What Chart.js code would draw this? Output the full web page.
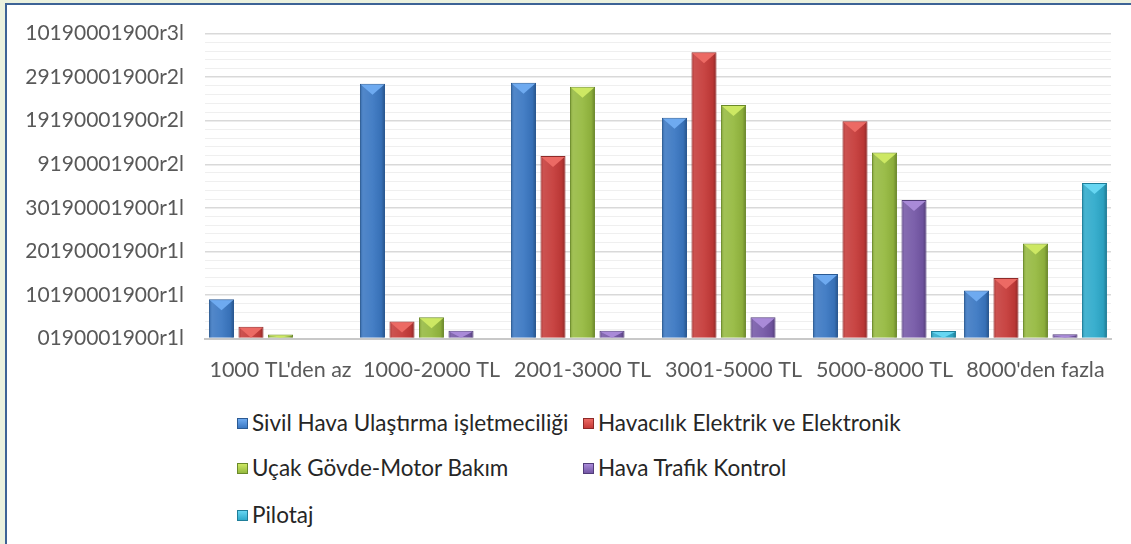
<!DOCTYPE html>
<html>
<head>
<meta charset="utf-8">
<script src="https://cdn.jsdelivr.net/npm/chart.js@4/dist/chart.umd.min.js"></script>
<style>
  body { margin: 0; background: #ebf1de; width: 1131px; height: 544px; overflow: hidden; font-family: Lato, "Liberation Sans", sans-serif; }
  #frame { position: absolute; left: 5px; top: 3px; width: 1124px; height: 539px; background: #fff;
           border-left: 2px solid #3d6396; border-top: 2px solid #3d6396; }
  #chart { position: absolute; left: 0; top: -5px; }
  .leg { position: absolute; font-size: 22.5px; color: #262626; white-space: nowrap; line-height: 26px; }
  .leg i { display: inline-block; width: 9px; height: 9px; margin-right: 4px; vertical-align: 2px; border: 1px solid; }
</style>
</head>
<body>
<div id="frame">
  <canvas id="chart" width="1124" height="400"></canvas>
  <div id="legend"></div>
</div>
<script>
const categories = ["1000 TL'den az", '1000-2000 TL', '2001-3000 TL', '3001-5000 TL', '5000-8000 TL', "8000'den fazla"];
const yLabels = ['0190001900r1l', '10190001900r1l', '20190001900r1l', '30190001900r1l',
                 '9190001900r2l', '19190001900r2l', '29190001900r2l', '10190001900r3l'];

const sivil     = [9.0, 58.5, 58.7, 50.7, 14.8, 11.0];
const havacilik = [2.7, 3.9, 41.9, 65.7, 49.9, 13.9];
const ucak      = [0.9, 4.9, 57.8, 53.6, 42.7, 21.8];
const trafik    = [0, 1.8, 1.8, 4.9, 31.8, 1.0];
const pilotaj   = [0, 0, 0, 0, 1.7, 35.7];

const seriesNames = ['Sivil Hava Ulaştırma işletmeciliği', 'Havacılık Elektrik ve Elektronik',
                     'Uçak Gövde-Motor Bakım', 'Hava Trafik Kontrol', 'Pilotaj'];
const seriesData = [sivil, havacilik, ucak, trafik, pilotaj];
const fills  = ['#3a77c2', '#c53a38', '#95b93f', '#7457a6', '#2eaacb'];
const tops   = ['#6eaaf0', '#ec6a64', '#cde863', '#a98ad8', '#66d6f2'];
const edges  = ['#2b5a93', '#8e2a28', '#6b8a2a', '#523d7a', '#1f7e99'];

// bevel + pyramid tip like the office 3d bars
const bevel = {
  id: 'bevel',
  afterDatasetsDraw(chart) {
    const ctx = chart.ctx;
    chart.data.datasets.forEach((ds, i) => {
      chart.getDatasetMeta(i).data.forEach(bar => {
        const p = bar.getProps(['x', 'y', 'base', 'width'], true);
        const h = p.base - p.y;
        if (h < 1) return;
        const l = p.x - p.width / 2, r = p.x + p.width / 2;
        ctx.save();
        const g = ctx.createLinearGradient(l, 0, r, 0);
        g.addColorStop(0, 'rgba(0,0,0,0.15)');
        g.addColorStop(0.12, 'rgba(255,255,255,0.12)');
        g.addColorStop(0.5, 'rgba(255,255,255,0.06)');
        g.addColorStop(0.85, 'rgba(0,0,0,0.06)');
        g.addColorStop(1, 'rgba(0,0,0,0.3)');
        ctx.fillStyle = g;
        ctx.fillRect(l + 1, p.y + 1, p.width - 2, h - 1);
        const th = Math.min(p.width * 0.4, h - 1);
        ctx.beginPath();
        ctx.moveTo(l + 1, p.y + 1);
        ctx.lineTo(r - 1, p.y + 1);
        ctx.lineTo(p.x, p.y + 1 + th);
        ctx.closePath();
        ctx.fillStyle = ds.topColor;
        ctx.fill();
        ctx.restore();
      });
    });
  }
};

const ctx = document.getElementById('chart').getContext('2d');
const chart = new Chart(ctx, {
  type: 'bar',
  data: {
    labels: categories,
    datasets: seriesNames.map((name, i) => ({
      label: name,
      data: seriesData[i],
      backgroundColor: fills[i],
      borderColor: edges[i],
      borderWidth: 1,
      topColor: tops[i],
      barPercentage: 0.85,
      categoryPercentage: 0.977
    }))
  },
  options: {
    responsive: false,
    devicePixelRatio: 1,
    animation: false,
    layout: { padding: { top: 23, right: 20, left: 0, bottom: 0 } },
    plugins: { legend: { display: false }, tooltip: { enabled: false } },
    scales: {
      x: {
        grid: { display: false, drawTicks: false },
        border: { color: '#c8c8c8', width: 2 },
        ticks: { color: '#595959', font: { family: 'Lato', size: 21.5 }, padding: 19, maxRotation: 0, autoSkip: false },
        afterFit: s => { s.height = 400 - 338.5; }
      },
      y: {
        min: 0, max: 70,
        border: { display: false },
        grid: {
          drawTicks: false,
          color: c => c.tick && c.tick.value % 10 === 0 ? '#d9d9d9' : '#efefef',
          lineWidth: c => c.tick && c.tick.value % 10 === 0 ? 1.5 : 1
        },
        ticks: {
          stepSize: 2,
          autoSkip: false,
          padding: 21,
          color: '#595959',
          font: { family: 'Lato', size: 21 },
          callback: v => v % 10 === 0 ? yLabels[v / 10] : ''
        },
        afterFit: s => { s.width = 198; }
      }
    }
  },
  plugins: [bevel]
});

// legend in the two-column office layout
const legendPos = [[230, 405], [576, 405], [230, 450], [576, 450], [230, 497]];
document.getElementById('legend').innerHTML = seriesNames.map((name, i) =>
  `<div class="leg" style="left:${legendPos[i][0]}px;top:${legendPos[i][1]}px">` +
  `<i style="background:linear-gradient(${tops[i]},${fills[i]});border-color:${edges[i]}"></i>${name}</div>`
).join('');
</script>
</body>
</html>
